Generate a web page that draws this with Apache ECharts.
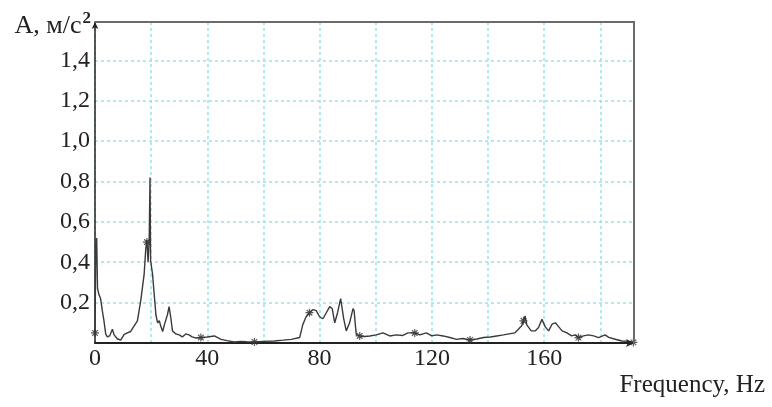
<!DOCTYPE html>
<html>
<head>
<meta charset="utf-8">
<script src="https://cdn.jsdelivr.net/npm/echarts@6/dist/echarts.min.js"></script>
<style>
  html, body { margin: 0; padding: 0; background: #fff; }
  #chart { width: 772px; height: 407px; }
</style>
</head>
<body>
<div id="chart"></div>
<script>
// spectrum, Hz -> m/s^2
const freq = [
  0, 0.3, 0.6, 0.9, 1.4, 2.0, 2.6, 3.2, 3.8, 4.4, 5.2, 6.2, 6.8, 8.0, 9.2,
  10.4, 11.5, 12.7, 13.9, 15.1, 16.3, 17.5, 18.1, 18.5, 18.9, 19.3, 19.6, 19.8,
  20.5, 21.1, 21.7, 22.3, 22.9, 23.5, 24.1, 24.7, 25.8, 26.4, 27.0, 27.6, 28.8,
  30.0, 31.1, 32.3, 33.5, 34.6, 35.8, 37.7, 40, 42.5, 44.9, 47, 49.6, 52, 54,
  56.8, 60, 63.9, 67, 69.9, 72.9, 74.0, 75.2, 76.4, 77.6, 78.8, 80.0, 81.2,
  82.4, 83.6, 84.5, 85.4, 86.4, 87.5, 88.1, 88.6, 89.5, 90.7, 91.9, 92.3, 92.8,
  93.1, 94.3, 96, 97.9, 100.2, 102.6, 105, 107.4, 109.5, 111.5, 113.9, 115.7,
  118, 120, 121.7, 124, 126.4, 128.8, 131, 133.6, 136, 138.4, 140.8, 143.1,
  145.5, 147.5, 149.5, 150.8, 152.0, 152.6, 153.2, 153.8, 155.4, 156.8, 158.0,
  159.2, 159.8, 160.4, 161.6, 162.8, 164.0, 165.2, 166.4, 168.1, 169.8, 171.0,
  172.2, 174, 175.8, 177.6, 179.4, 181.7, 183, 185, 187.7, 190, 191.8
];
const amp = [
  0.05, 0.5, 0.52, 0.27, 0.24, 0.22, 0.16, 0.11, 0.045, 0.03, 0.035, 0.068, 0.04, 0.02, 0.015,
  0.043, 0.05, 0.057, 0.084, 0.11, 0.21, 0.34, 0.47, 0.51, 0.4, 0.51, 0.82, 0.41,
  0.34, 0.24, 0.14, 0.1, 0.11, 0.08, 0.057, 0.09, 0.14, 0.18, 0.125, 0.06, 0.045,
  0.04, 0.03, 0.045, 0.04, 0.03, 0.025, 0.027, 0.03, 0.035, 0.018, 0.012, 0.005, 0.008, 0.006,
  0.005, 0.008, 0.01, 0.014, 0.018, 0.027, 0.09, 0.13, 0.15, 0.165, 0.16, 0.13, 0.12,
  0.15, 0.18, 0.17, 0.1, 0.15, 0.22, 0.228, 0.12, 0.06, 0.1, 0.17, 0.16, 0.08,
  0.04, 0.035, 0.032, 0.035, 0.04, 0.05, 0.035, 0.04, 0.037, 0.05, 0.05, 0.04,
  0.05, 0.035, 0.04, 0.035, 0.027, 0.018, 0.022, 0.015, 0.02, 0.027, 0.03, 0.035,
  0.04, 0.045, 0.05, 0.068, 0.085, 0.11, 0.134, 0.09, 0.06, 0.06, 0.077,
  0.117, 0.11, 0.08, 0.06, 0.093, 0.1, 0.08, 0.06, 0.05, 0.035, 0.04,
  0.027, 0.035, 0.04, 0.035, 0.027, 0.04, 0.028, 0.02, 0.01, 0.008, 0.003
];
// asterisk marks (harmonics)
const markFreq = [0, 18.5, 37.7, 56.8, 76.4, 94.3, 113.9, 133.6, 152.6, 172.2, 191.8];
const markAmp = [0.05, 0.5, 0.027, 0.005, 0.15, 0.035, 0.05, 0.015, 0.11, 0.027, 0.003];

const xMax = 192;
const yMax = 1.59;

const serif = "Liberation Serif";
const asterisk = "path://M0,5L10,5M5,0L5,10M1.5,1.5L8.5,8.5M8.5,1.5L1.5,8.5";
const gridLine = { show: true, lineStyle: { color: "#9fe0e6", type: [3, 3], width: 1.5 } };
// plain frame for top / right edges
const frame = {
  type: "value",
  axisLine: { show: true, onZero: false, lineStyle: { color: "#6b6b6b", width: 2 } },
  axisTick: { show: false },
  axisLabel: { show: false },
  splitLine: { show: false },
  z: 6,
};

const chart = echarts.init(document.getElementById("chart"));
const option = {
  animation: false,
  backgroundColor: "#fff",
  grid: { left: 95, right: 138, top: 22, bottom: 64 },
  xAxis: [
    {
      type: "value",
      min: 0,
      max: xMax,
      interval: 20,
      axisLine: {
        lineStyle: { color: "#222", width: 2 },
        symbol: ["none", "arrow"],
        symbolSize: [6, 8],
      },
      axisTick: { show: false },
      axisLabel: {
        color: "#222",
        fontFamily: serif,
        fontSize: 24,
        margin: 4,
        showMaxLabel: false,
        formatter: (v) => (v % 40 === 0 ? String(v) : ""),
      },
      splitLine: gridLine,
      z: 3,
    },
    Object.assign({ position: "top", min: 0, max: xMax }, frame),
  ],
  yAxis: [
    {
      type: "value",
      min: 0,
      max: yMax,
      interval: 0.2,
      name: "{a|A, м/с}{s|2}",
      nameLocation: "end",
      nameGap: -4,
      nameTextStyle: {
        align: "right",
        verticalAlign: "middle",
        padding: [0, 4, 0, 0],
        rich: {
          a: { fontFamily: serif, fontSize: 26, color: "#222" },
          s: { fontFamily: serif, fontSize: 17, fontWeight: "bold", color: "#222", padding: [0, 0, 14, 1] },
        },
      },
      axisLine: {
        show: true,
        lineStyle: { color: "#222", width: 1.5 },
        symbol: ["none", "arrow"],
        symbolSize: [5, 7],
      },
      axisTick: { show: false },
      axisLabel: {
        color: "#222",
        fontFamily: serif,
        fontSize: 24,
        margin: 5,
        showMaxLabel: false,
        formatter: (v) => (v === 0 ? "" : v.toFixed(1).replace(".", ",")),
      },
      splitLine: gridLine,
      z: 3,
    },
    Object.assign({ position: "right", min: 0, max: yMax }, frame),
  ],
  graphic: [
    {
      type: "text",
      right: 7,
      top: 373,
      style: {
        text: "Frequency, Hz",
        font: "25px " + serif,
        fill: "#222",
      },
    },
  ],
  series: [
    {
      type: "line",
      data: freq.map((f, i) => [f, amp[i]]),
      showSymbol: false,
      lineStyle: { color: "#3a3a3a", width: 1.4 },
      z: 3,
    },
    {
      type: "scatter",
      data: markFreq.map((f, i) => [f, markAmp[i]]),
      symbol: asterisk,
      symbolSize: 8,
      itemStyle: { color: "none", borderColor: "#333", borderWidth: 1.2 },
      z: 4,
    },
  ],
};
chart.setOption(option);
</script>
</body>
</html>
